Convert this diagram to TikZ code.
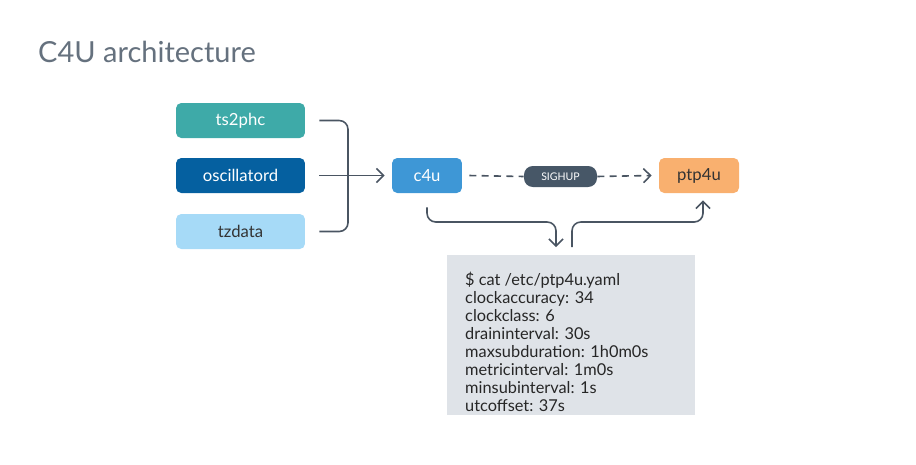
\documentclass[tikz,border=0pt]{standalone}
\usepackage{fontspec}
\setmainfont{Lato}
\usetikzlibrary{positioning, arrows.meta}
\definecolor{tsgreen}{HTML}{3EAAA8}
\definecolor{oscblue}{HTML}{0560A0}
\definecolor{tzblue}{HTML}{A6DAF7}
\definecolor{cblue}{HTML}{3E97D6}
\definecolor{ptporange}{HTML}{F9B06F}
\definecolor{pillgray}{HTML}{475767}
\definecolor{codegray}{HTML}{DFE3E8}
\definecolor{linegray}{HTML}{4A5562}
\definecolor{titlegray}{HTML}{65717E}
\tikzset{
  box/.style={rounded corners=3pt, minimum height=0.7cm, font=\fontsize{9.5}{11}\selectfont},
  flow/.style={draw=linegray, line width=0.9pt, rounded corners=5pt, -{Straight Barb[length=4pt,width=8pt]}},
}
\begin{document}
\begin{tikzpicture}[x=0.02cm, y=-0.02cm]
\useasboundingbox (0,0) rectangle (916,464);
\node[anchor=west, text=titlegray, font=\fontsize{16.5}{19}\selectfont] (title) at (32,52) {C4U architecture};

\node[box, fill=tsgreen, text=white, minimum width=2.58cm] (ts2phc) at (240.5,120.5) {ts2phc};
\node[box, fill=oscblue, text=white, minimum width=2.58cm] (osc) at (240.5,175.5) {oscillatord};
\node[box, fill=tzblue, text=black!80, minimum width=2.58cm] (tz) at (240.5,231.5) {tzdata};
\node[box, fill=cblue, text=white, minimum width=1.4cm] (c4u) at (427,175.5) {c4u};
\node[box, fill=ptporange, text=black!80, minimum width=1.6cm] (ptp) at (699,175.5) {ptp4u};
\node[rounded corners=5pt, fill=pillgray, text=white, minimum width=1.46cm, minimum height=0.42cm, font=\fontsize{6}{7}\selectfont] (sig) at (560.5,176.5) {SIGHUP};

\node[fill=codegray, minimum width=4.96cm, minimum height=3.2cm, anchor=north west, inner sep=0pt] (cfg) at (447,255) {};
\node[anchor=north west, align=left, font=\fontsize{9.3}{10.25}\selectfont, text=black!85] (code) at (459,266) {\$ cat /etc/ptp4u.yaml\\clockaccuracy: 34\\clockclass: 6\\draininterval: 30s\\maxsubduration: 1h0m0s\\metricinterval: 1m0s\\minsubinterval: 1s\\utcoffset: 37s};

\coordinate (join) at (348,175.5);
\coordinate (dn) at (556,247);
\coordinate (up) at (572,247);
\draw[draw=linegray, line width=0.9pt, rounded corners=5pt] ([xshift=8pt]ts2phc.east) -| (join) |- ([xshift=8pt]tz.east);
\draw[flow] ([xshift=8pt]osc.east) -- ([xshift=-4pt]c4u.west);
\draw[flow] ([yshift=-8pt]c4u.south) |- (556,222) -- (dn);
\draw[flow] (up) |- (703,222) -- ([yshift=-4pt]ptp.south -| 703,0);
\draw[draw=linegray, line width=0.9pt, dash pattern=on 4pt off 3pt] ([xshift=4pt]c4u.east) -- (sig.west);
\draw[draw=linegray, line width=0.9pt, dash pattern=on 4pt off 3pt, -{Straight Barb[length=4pt,width=8pt]}] (sig.east) -- ([xshift=-4pt]ptp.west);
\end{tikzpicture}
\end{document}
